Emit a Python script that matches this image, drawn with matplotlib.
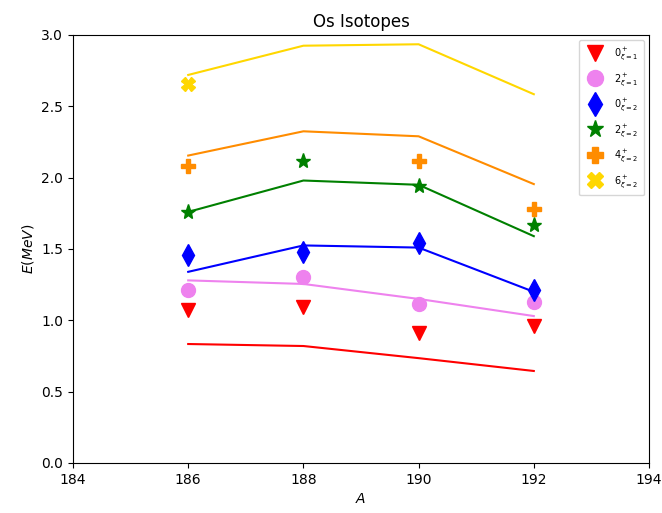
import numpy as np
import matplotlib
matplotlib.use("Agg")
import matplotlib.pyplot as plt

A = [186, 188, 190, 192]

# theory (lines)
th_0_1 = [0.834, 0.82, 0.735, 0.645]
th_2_1 = [1.28, 1.255, 1.15, 1.03]
th_0_2 = [1.34, 1.525, 1.51, 1.20]
th_2_2 = [1.76, 1.98, 1.95, 1.59]
th_4_2 = [2.155, 2.325, 2.29, 1.955]
th_6_2 = [2.72, 2.925, 2.935, 2.585]

# experiment (markers)
A_6 = [186]
A_4 = [186, 190, 192]
ex_0_1 = [1.07, 1.09, 0.91, 0.96]
ex_2_1 = [1.21, 1.305, 1.115, 1.13]
ex_0_2 = [1.455, 1.48, 1.545, 1.21]
ex_2_2 = [1.76, 2.115, 1.94, 1.67]
ex_4_2 = [2.08, 2.12, 1.78]
ex_6_2 = [2.66]

labels = [r"$0^+_{\xi=1}$", r"$2^+_{\xi=1}$", r"$0^+_{\xi=2}$",
          r"$2^+_{\xi=2}$", r"$4^+_{\xi=2}$", r"$6^+_{\xi=2}$"]

fig = plt.figure(figsize=(6.62, 5.13), dpi=100)
ax = fig.add_axes([73/662, 1-463/513, 576/662, 428/513])

ax.plot(A, th_0_1, color="red")
ax.plot(A, th_2_1, color="violet")
ax.plot(A, th_0_2, color="blue")
ax.plot(A, th_2_2, color="green")
ax.plot(A, th_4_2, color="darkorange")
ax.plot(A, th_6_2, color="gold")

ax.plot(A, ex_0_1, "v", color="red", ms=10, label=labels[0])
ax.plot(A, ex_2_1, "o", color="violet", ms=10, label=labels[1])
ax.plot(A, ex_0_2, "d", color="blue", ms=11, label=labels[2])
ax.plot(A, ex_2_2, "*", color="green", ms=11, label=labels[3])
ax.plot(A_4, ex_4_2, "P", color="darkorange", ms=10, label=labels[4])
ax.plot(A_6, ex_6_2, "X", color="gold", ms=10, label=labels[5])

ax.set_xlim(184, 194)
ax.set_ylim(0, 3.0)
ax.set_xlabel(r"$A$")
ax.set_ylabel(r"$E(MeV)$")
ax.set_title("Os Isotopes")
ax.legend(loc="upper right", fontsize=7, markerscale=1.15,
          handletextpad=1.0, labelspacing=0.9, borderpad=0.6)

fig.savefig("out.png", dpi=100)
